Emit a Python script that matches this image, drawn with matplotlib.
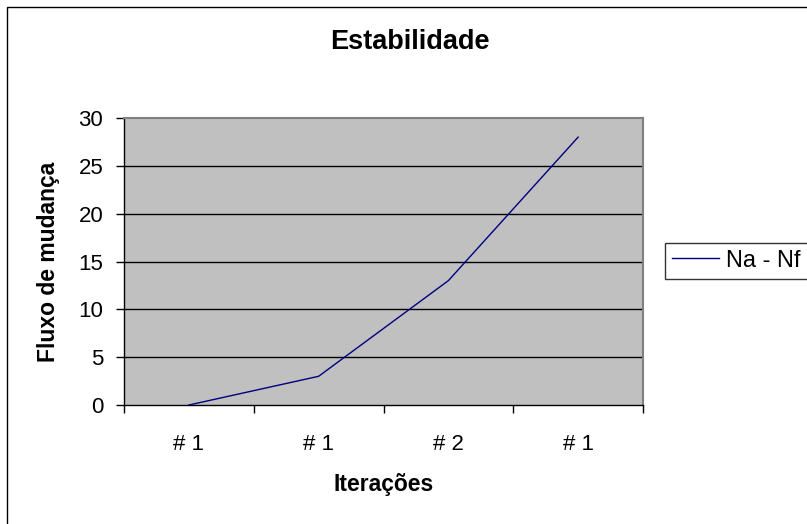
import matplotlib
matplotlib.use("Agg")
import matplotlib.pyplot as plt
from matplotlib.patches import Rectangle
from matplotlib.ticker import FixedLocator, NullFormatter

plt.rcParams['font.family'] = ['Liberation Sans', 'DejaVu Sans']

# Chart data
categories = ["# 1", "# 1", "# 2", "# 1"]
values = [0, 3, 13, 28]
series_name = "Na - Nf"
y_ticks = [0, 5, 10, 15, 20, 25, 30]

W, H = 807, 524
fig = plt.figure(figsize=(W / 100, H / 100), dpi=100)
fig.patch.set_facecolor("white")

# outer chart frame (right and bottom run past the canvas)
fig.add_artist(Rectangle((7 / W, -0.1), 1.2, 1.1 - 7 / H,
                         transform=fig.transFigure, fill=False,
                         edgecolor="black", linewidth=1.0))

left, right, top, bottom = 124, 643, 118, 405
ax = fig.add_axes([left / W, 1 - bottom / H, (right - left) / W, (bottom - top) / H])
ax.set_facecolor("#C0C0C0")

n = len(categories)
xs = [i + 0.5 for i in range(n)]
line, = ax.plot(xs, values, color="#000080", linewidth=1.0, label=series_name)

ax.set_xlim(0, n)
ax.set_ylim(0, 30)
ax.set_yticks(y_ticks)
for yv in y_ticks[1:-1]:
    ax.axhline(yv, color="black", linewidth=1.0, zorder=1)
line.set_zorder(3)

# category boundaries carry the tick marks, centres carry the labels
ax.xaxis.set_major_locator(FixedLocator(list(range(n + 1))))
ax.xaxis.set_major_formatter(NullFormatter())
ax.xaxis.set_minor_locator(FixedLocator(xs))
ax.set_xticklabels(categories, minor=True)
ax.tick_params(axis="x", which="major", direction="out", length=6, width=1, color="black")
ax.tick_params(axis="x", which="minor", length=0, pad=21, labelsize=16)
ax.tick_params(axis="y", direction="out", length=6, width=1, pad=9, labelsize=16, color="black")

for side in ("left", "bottom"):
    ax.spines[side].set_color("black")
    ax.spines[side].set_linewidth(1.0)
for side in ("top", "right"):
    ax.spines[side].set_color("#808080")
    ax.spines[side].set_linewidth(1.5)

ax.set_xlabel("Iterações", fontsize=16.5, fontweight="bold", va="center")
ax.xaxis.set_label_coords(0.5, (bottom - 485) / (bottom - top))
ax.set_ylabel("Fluxo de mudança", fontsize=16.5, fontweight="bold", va="center")
ax.yaxis.set_label_coords((49 - left) / (right - left), 0.5)

fig.text(410 / W, 1 - 42 / H, "Estabilidade", fontsize=19.5, fontweight="bold",
         ha="center", va="center")

leg = fig.legend(handles=[line], loc="upper left",
                 bbox_to_anchor=(665 / W, 1 - 242.5 / H), borderaxespad=0,
                 fontsize=17, frameon=True, fancybox=False, shadow=False,
                 handlelength=2.0, handletextpad=0.3, borderpad=0.3)
leg.get_frame().set_edgecolor("black")
leg.get_frame().set_linewidth(1.0)

fig.savefig("out.png", dpi=100)
